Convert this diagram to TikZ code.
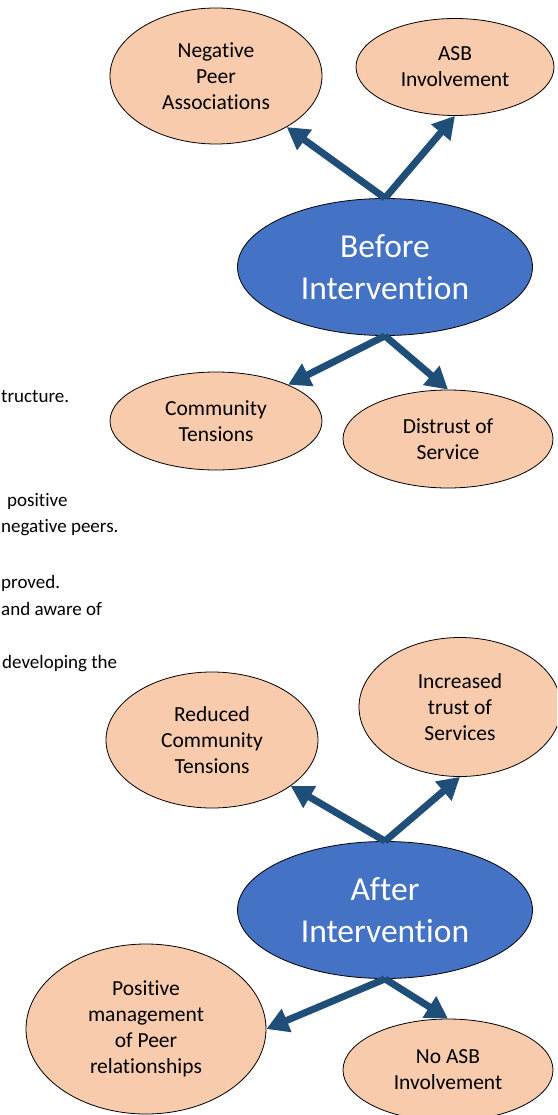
\documentclass[tikz,border=0pt]{standalone}
\usepackage{fontspec}
\setmainfont{Carlito}[Ligatures=NoCommon]
\usetikzlibrary{shapes.geometric,arrows.meta}
\definecolor{peach}{HTML}{F8CBAD}
\definecolor{hubblue}{HTML}{4472C4}
\definecolor{arrblue}{HTML}{1F4E79}
\begin{document}
\begin{tikzpicture}[x=1pt, y=-1pt,
    bubble/.style={ellipse, draw=black, line width=0.8pt, fill=peach, inner sep=0pt, align=center, font=\fontsize{21.5}{26}\selectfont},
    hub/.style={ellipse, draw=black, line width=0.8pt, fill=hubblue, text=white, inner sep=0pt, minimum width=295pt, minimum height=137pt, align=center, font=\fontsize{33.5}{42}\selectfont},
    frag/.style={anchor=base west, inner sep=0pt, font=\fontsize{19}{22}\selectfont},
    arr/.style={-{Triangle[length=22pt,width=24pt]}, line width=7pt, arrblue}
  ]
    \useasboundingbox (0,0) rectangle (557,1115);
    \clip (0,0) rectangle (557,1115);
    % text cut off at the left edge
    \node[frag] (t1) at (1,402) {tructure.};
    \node[frag] (t2) at (7,506) {positive};
    \node[frag] (t3) at (1,532) {negative peers.};
    \node[frag] (t4) at (1,588) {proved.};
    \node[frag] (t5) at (1,615) {and aware of};
    \node[frag] (t6) at (2,668) {developing the};
    % before
    \node[hub] (before) at (385,267) {Before\\Intervention};
    \node[bubble, minimum width=212pt, minimum height=136pt] (negpeer) at (216,76) {Negative\\Peer\\Associations};
    \node[bubble, minimum width=198pt, minimum height=97pt] (asb) at (455,67) {ASB\\Involvement};
    \node[bubble, minimum width=212pt, minimum height=98pt] (commt) at (216,421) {Community\\Tensions};
    \node[bubble, minimum width=210pt, minimum height=98pt] (distrust) at (448,439) {Distrust of\\Service};
    \draw[arr] (before.north) -- (negpeer);
    \draw[arr] (before.north) -- (asb.south);
    \draw[arr] (before.south) -- (commt);
    \draw[arr] (before.south) -- (distrust.north);
    % after
    \node[hub] (after) at (385,910) {After\\Intervention};
    \node[bubble, minimum width=212pt, minimum height=136pt] (redcomm) at (212,740) {Reduced\\Community\\Tensions};
    \node[bubble, minimum width=202pt, minimum height=139pt] (trust) at (460,707) {Increased\\trust of\\Services};
    \node[bubble, minimum width=240pt, minimum height=170pt] (posmgmt) at (146,1029) {Positive\\management\\of Peer\\relationships};
    \node[bubble, minimum width=210pt, minimum height=102pt] (noasb) at (448,1070) {No ASB\\Involvement};
    \draw[arr] (after.north) -- (redcomm);
    \draw[arr] (after.north) -- (trust.south);
    \draw[arr] (after.south) -- (posmgmt.east);
    \draw[arr] (after.south) -- (noasb.north);
\end{tikzpicture}
\end{document}
